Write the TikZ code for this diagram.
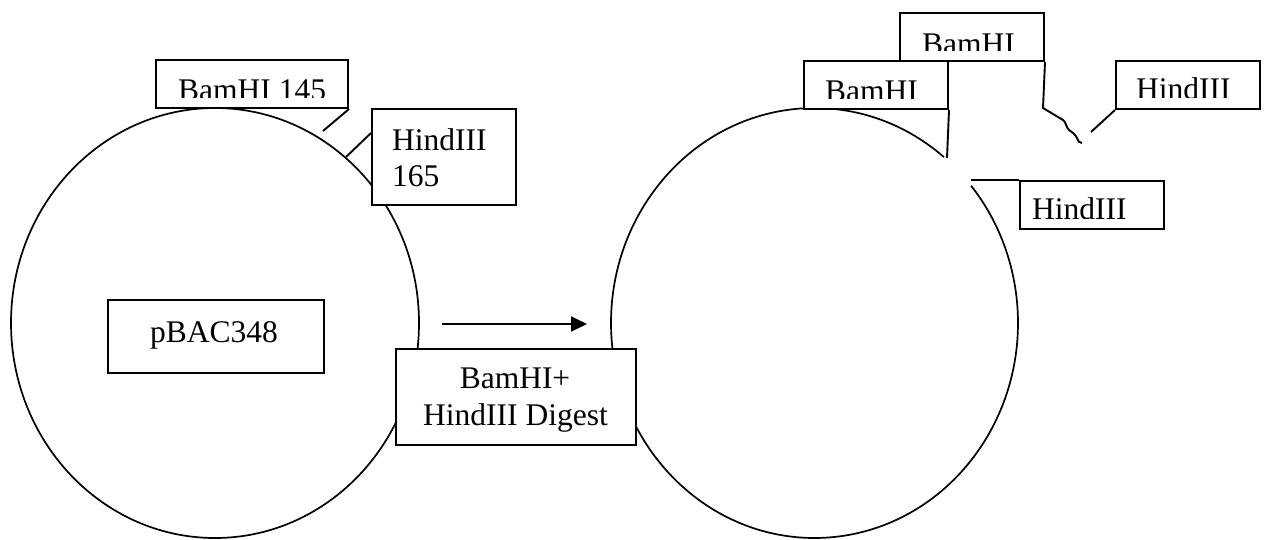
\documentclass[tikz,border=0pt]{standalone}
\usepackage{fontspec}
\setmainfont{Liberation Serif}
\usetikzlibrary{arrows.meta,calc}
\begin{document}
\begin{tikzpicture}[x=1pt,y=-1pt,
  ring/.style={line width=1.7pt},
  box/.style={draw, fill=white, line width=2pt, inner sep=0pt, anchor=north west},
  lbl/.style={inner sep=0pt, font=\fontsize{31.5}{36}\selectfont},
  lead/.style={line width=1.9pt},
  flow/.style={line width=1.9pt, -{Triangle[length=16pt,width=15pt]}}]
\useasboundingbox (0,0) rectangle (1269,539);
% plasmid circles
\draw[ring] (215,323) ellipse [x radius=204pt, y radius=215pt];
\draw[ring] (814.5,323) ++(50.5:203.5pt and 215pt)
  arc[start angle=50.5, end angle=399.7, x radius=203.5pt, y radius=215pt];
% left boxes
\node[box, minimum width=192pt, minimum height=48pt] (b145) at (155,59) {};
\begin{scope}
  \clip (155,59) rectangle (347,97.5);
  \node[lbl, anchor=base west] (t145) at (178,100) {BamHI 145};
\end{scope}
\node[box, minimum width=144pt, minimum height=96pt] (bh165) at (371,108) {};
\node[lbl, anchor=base west] (th165a) at (392,150) {HindIII};
\node[lbl, anchor=base west] (th165b) at (392,186) {165};
\node[box, minimum width=216pt, minimum height=73pt] (bp) at (107,299) {};
\node[lbl, anchor=base] (tp) at (214,342) {pBAC348};
% digest box
\node[box, minimum width=240pt, minimum height=96pt] (bd) at (395,348) {};
\node[lbl, anchor=base] (td1) at (515,388) {BamHI+};
\node[lbl, anchor=base] (td2) at (515.5,425) {HindIII Digest};
% right boxes
\node[box, minimum width=144pt, minimum height=48pt] (rb1) at (899,12) {};
\begin{scope}
  \clip (899,12) rectangle (1043,50);
  \node[lbl, anchor=base west] (trb1) at (922,54) {BamHI};
\end{scope}
\node[box, minimum width=144pt, minimum height=48pt] (rb2) at (803,60) {};
\begin{scope}
  \clip (803,60) rectangle (947,98);
  \node[lbl, anchor=base west] (trb2) at (825,101) {BamHI};
\end{scope}
\node[box, minimum width=144pt, minimum height=48pt] (rh1) at (1115,60) {};
\begin{scope}
  \clip (1115,60) rectangle (1259,97);
  \node[lbl, anchor=base west] (trh1) at (1136,99) {HindIII};
\end{scope}
\node[box, minimum width=144pt, minimum height=48pt] (rh2) at (1019,180) {};
\begin{scope}
  \clip (1019,180) rectangle (1163,218);
  \node[lbl, anchor=base west] (trh2) at (1032,219) {HindIII};
\end{scope}
% leader lines
\coordinate (e145) at (323,131);
\coordinate (e165) at (346,157);
\coordinate (erb2) at (947,158);
\coordinate (erh1) at (1091,132);
\coordinate (erh2) at (971,180);
\draw[lead] (b145.south east) -- (e145);
\draw[lead] ($(bh165.north west)+(0,25)$) -- (e165);
\draw[lead] (rb2.south east) -- (erb2);
\draw[lead] (rh1.south west) -- (erh1);
\draw[lead] (rh2.north west) -- (erh2);
\draw[lead, line join=round] (rb1.south east) -- (1043,108) -- (1063,120)
  .. controls (1066,122) and (1066,127) .. (1069,130)
  .. controls (1072,132) and (1075,134) .. (1077,138)
  .. controls (1078,141) and (1079,143) .. (1082,143);
% arrow
\coordinate (a1) at (442,324);
\coordinate (a2) at (587,324);
\draw[flow] (a1) -- (a2);
\end{tikzpicture}
\end{document}
